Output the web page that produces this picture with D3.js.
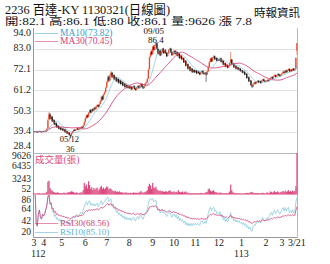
<!DOCTYPE html>
<html>
<head>
<meta charset="utf-8" />
<title>2236 百達-KY</title>
<script src="https://cdn.jsdelivr.net/npm/d3@7"></script>
<style>
  body { margin: 0; background: #fff; }
  svg text { font-family: "Liberation Serif", "DejaVu Serif", "Noto Sans CJK TC", serif; }
</style>
</head>
<body>
<div id="chart"></div>
<script>
// daily bars, 112/03/21 .. 113/03/21 (one row per month block)
var open = [
  39.5,39.6,39.8,39.6,39.4,39.7,39.9,39.6,39.5,
  39.9,39.6,39.9,40.4,41.2,46.0,48.6,46.2,47.4,44.8,45.6,43.2,44.0,41.8,42.6,41.0,41.8,
  40.5,41.2,40.0,40.8,39.2,39.8,38.4,39.0,37.8,37.4,38.8,39.6,40.6,40.2,40.9,41.3,40.6,41.0,41.6,42.1,41.7,42.9,
  44.8,46.6,48.2,47.4,49.6,51.0,49.8,51.4,50.6,52.2,51.5,52.9,53.6,52.8,54.2,55.6,58.0,56.6,59.2,60.4,
  62.8,65.6,68.4,66.5,69.4,70.6,68.0,69.2,67.2,68.0,66.2,67.2,65.4,66.4,64.8,65.6,64.0,64.8,63.2,64.0,62.8,
  63.4,62.5,63.2,61.9,62.8,63.5,62.1,61.6,62.9,63.6,62.5,63.9,64.6,63.3,62.5,63.7,64.9,65.6,67.5,72.5,79.0,81.5,
  80.4,84.2,82.6,85.2,86.0,83.0,80.6,82.2,79.8,81.6,83.2,80.8,82.4,81.0,79.3,80.7,82.6,83.2,81.3,79.8,
  81.6,82.0,80.5,81.4,79.6,80.6,78.4,79.4,77.7,78.2,76.2,76.8,74.4,75.0,72.8,73.6,71.8,72.6,70.9,71.9,
  70.9,71.6,70.3,71.1,70.5,69.7,70.9,71.5,70.3,69.9,70.6,69.6,71.3,73.6,76.2,78.0,76.6,78.5,79.2,77.7,78.3,76.9,
  77.5,77.1,78.1,76.3,76.8,74.9,75.5,73.9,74.6,73.3,74.1,75.8,77.4,74.9,75.3,73.5,74.0,72.7,73.3,72.3,72.7,
  71.5,71.7,70.7,71.0,69.7,70.0,67.9,68.2,66.1,66.4,63.8,63.3,64.7,65.5,64.9,65.7,66.3,65.6,66.1,65.3,66.5,67.1,66.3,
  65.8,66.1,66.7,66.3,67.1,67.7,68.3,67.6,68.7,69.3,68.5,69.1,69.9,69.3,68.9,
  69.7,70.3,71.1,70.5,71.7,70.9,71.9,72.5,71.3,72.1,71.6,72.7,71.9,72.6,82.1
];
var high = [
  39.9,40.0,40.0,39.8,39.9,40.2,40.0,39.8,40.0,
  40.1,40.1,40.5,41.4,46.5,50.0,49.4,48.0,47.8,46.2,46.0,44.6,44.4,43.2,43.0,42.2,42.0,
  41.7,41.5,41.2,41.0,40.3,40.1,39.5,39.3,38.2,39.0,39.9,40.8,40.8,41.0,41.5,41.5,41.3,41.8,42.3,42.4,43.1,45.0,
  47.0,48.6,48.6,49.9,51.3,51.4,51.6,51.8,52.4,52.6,53.1,53.9,53.9,54.4,56.0,58.4,58.6,59.6,60.8,63.2,
  66.2,68.9,69.0,69.8,71.4,71.0,69.9,69.6,68.6,68.4,67.8,67.5,67.0,66.8,66.2,65.9,65.3,65.0,64.6,64.3,64.0,
  63.7,63.8,63.5,63.2,64.0,63.8,62.5,63.2,63.9,63.9,64.2,65.0,64.9,63.6,64.0,65.2,66.0,67.8,72.8,79.2,82.0,82.4,
  84.6,85.0,85.6,86.4,86.2,83.4,82.5,82.6,81.9,83.5,83.6,82.7,82.8,81.4,81.0,82.9,83.6,83.6,81.7,81.9,
  82.5,82.4,82.0,81.7,81.2,80.9,80.0,79.7,78.8,78.5,77.4,77.1,75.6,75.3,74.2,73.9,73.2,72.9,72.4,72.2,
  71.9,71.9,71.4,71.4,70.8,71.2,71.8,71.8,70.6,71.0,70.9,71.6,74.0,76.6,78.4,78.6,78.9,79.6,79.6,78.6,78.6,77.8,
  77.8,78.4,78.4,77.4,77.1,76.0,75.8,75.2,74.9,74.6,76.0,81.4,77.8,75.8,75.6,74.6,74.3,73.8,73.6,73.2,73.0,
  72.2,72.0,71.6,71.3,70.6,70.3,68.8,68.5,67.0,66.7,64.2,65.0,65.8,65.8,66.0,66.6,66.6,66.4,66.4,66.8,67.4,67.4,66.6,
  66.4,67.0,67.0,67.4,68.0,68.6,68.6,69.0,69.6,69.6,69.4,70.2,70.2,69.6,70.0,
  70.6,71.4,71.4,72.0,72.0,72.2,72.8,72.8,72.4,72.4,73.0,73.0,72.6,78.6,86.1
];
var low = [
  39.2,39.4,39.3,39.2,39.2,39.5,39.4,39.3,39.3,
  39.5,39.4,39.7,40.2,41.0,45.6,46.0,45.8,44.6,44.4,43.0,42.9,41.7,41.5,40.9,40.7,40.3,
  40.3,39.9,39.8,39.1,39.0,38.3,38.2,37.6,36.0,37.1,38.5,39.4,40.0,40.0,40.6,40.4,40.4,40.8,41.4,41.4,41.5,42.6,
  44.4,46.2,46.8,47.0,49.2,49.2,49.4,50.2,50.3,51.0,51.2,52.6,52.2,52.5,53.9,55.2,56.0,56.2,58.8,60.0,
  62.4,65.2,65.9,66.1,69.0,67.8,67.7,66.6,66.8,65.6,65.8,64.8,65.0,64.2,64.4,63.4,63.6,62.7,62.9,62.2,62.4,
  62.0,62.2,61.4,61.6,62.5,61.7,61.1,61.3,62.6,62.1,62.3,63.6,62.9,62.0,62.2,63.4,64.6,65.3,67.2,72.0,78.4,79.6,
  80.0,82.0,82.2,84.6,82.8,80.0,80.2,79.2,79.4,81.2,80.4,80.4,80.6,78.8,78.9,80.3,82.2,80.8,79.4,79.4,
  81.2,80.0,80.2,79.1,79.3,77.8,78.1,77.2,77.3,75.6,75.8,73.8,74.0,72.2,72.5,71.2,71.5,70.4,70.6,70.4,
  70.6,69.8,70.0,70.0,69.2,69.4,70.6,69.8,69.4,69.6,65.7,69.3,71.0,73.3,75.8,76.1,76.3,78.2,77.2,77.4,76.4,76.6,
  76.6,76.8,75.8,76.0,74.4,74.6,73.4,73.6,72.8,73.0,73.8,75.4,74.4,74.5,73.0,73.2,72.2,72.4,71.8,72.0,71.0,
  71.1,70.2,70.4,69.2,69.4,67.4,67.5,65.6,65.8,63.6,62.4,63.0,64.4,64.4,64.6,65.4,65.1,65.3,64.8,65.0,66.2,65.8,65.4,
  65.5,65.8,65.8,66.0,66.8,67.4,67.1,67.3,68.4,68.0,68.2,68.8,68.8,68.4,68.6,
  69.4,70.0,70.0,70.2,70.4,70.6,71.6,70.8,71.0,71.1,71.3,71.4,71.6,72.3,80.0
];
var close = [
  39.6,39.8,39.5,39.4,39.7,39.9,39.6,39.5,39.8,
  39.7,39.9,40.3,41.0,45.5,48.8,46.4,47.6,45.0,45.8,43.4,44.2,42.0,42.8,41.2,41.9,40.6,
  41.4,40.2,40.9,39.4,40.0,38.6,39.2,37.9,37.4,38.8,39.6,40.5,40.0,40.8,41.2,40.6,41.0,41.5,42.0,41.6,42.8,44.5,
  46.5,48.0,47.2,49.5,50.8,49.6,51.2,50.5,52.0,51.4,52.8,53.5,52.6,54.0,55.5,57.8,56.5,59.0,60.2,62.5,
  65.5,68.0,66.4,69.2,70.5,68.2,69.4,67.0,68.2,66.0,67.4,65.2,66.6,64.6,65.8,63.8,64.9,63.0,64.2,62.6,63.6,
  62.4,63.4,61.8,62.9,63.6,62.0,61.6,62.9,63.5,62.4,63.8,64.5,63.0,62.4,63.6,64.8,65.5,67.2,72.0,78.5,81.0,80.2,
  84.0,82.5,85.0,86.0,83.2,80.5,82.0,79.6,81.5,83.0,80.8,82.2,81.0,79.2,80.6,82.4,83.0,81.2,79.8,81.5,
  82.0,80.4,81.6,79.5,80.8,78.2,79.6,77.6,78.4,76.0,77.0,74.2,75.2,72.6,73.8,71.6,72.8,70.8,72.0,70.8,
  71.5,70.2,71.0,70.4,69.6,70.8,71.4,70.2,69.8,70.6,69.5,71.2,73.5,76.0,77.8,76.5,78.4,79.0,77.6,78.2,76.8,77.4,
  77.0,78.0,76.2,77.0,74.8,75.6,73.8,74.8,73.2,74.2,75.5,77.5,74.8,75.4,73.4,74.2,72.6,73.4,72.2,72.8,71.4,
  71.8,70.6,71.2,69.6,70.2,67.8,68.4,66.0,66.6,64.0,63.2,64.6,65.4,64.8,65.6,66.2,65.5,66.0,65.2,66.4,67.0,66.2,65.8,
  66.0,66.6,66.2,67.0,67.6,68.2,67.5,68.6,69.2,68.4,69.0,69.8,69.2,68.8,69.6,
  70.2,71.0,70.4,71.6,70.8,71.8,72.4,71.2,72.0,71.5,72.6,71.8,72.2,78.3,86.1
];
var volume = [
  180,150,120,160,140,200,130,110,150,
  170,140,260,520,2900,3100,1400,900,760,520,380,300,260,420,220,180,200,
  240,180,350,220,260,300,420,380,520,640,560,420,260,300,380,240,220,300,420,280,900,2600,
  1800,2200,1300,3000,2100,1200,1600,900,1400,1000,1300,1500,800,1100,1600,1900,1200,1500,1100,1400,
  1800,1600,1100,1300,1200,900,700,600,800,500,600,400,650,380,420,300,350,280,400,260,300,
  240,300,260,220,360,280,300,260,320,260,480,700,420,300,380,520,600,900,1800,2400,2000,1200,
  2600,1500,1400,1700,1100,900,700,800,600,700,560,500,640,600,420,700,900,600,500,480,
  620,400,520,380,900,540,380,460,600,300,520,600,380,240,300,180,220,160,200,150,
  180,160,200,140,180,260,220,160,180,200,500,420,1100,1300,800,600,700,900,500,400,360,300,
  260,340,300,220,180,200,160,180,150,220,600,2200,900,400,300,240,200,180,220,160,140,
  150,120,140,160,200,240,300,200,360,420,500,300,220,180,200,240,160,180,150,200,300,220,160,
  180,400,260,220,600,500,300,420,700,400,460,600,380,320,500,
  560,700,420,800,500,640,900,500,700,520,800,600,700,1800,9626
];

var monthIdx = [0, 9, 26, 48, 68, 89, 111, 131, 151, 173, 194, 217, 232, 246];
var monthLabels = ["3", "4", "5", "6", "7", "8", "9", "10", "11", "12", "1", "2", "3", "3/21"];
var yearIdx = [4, 194];
var yearLabels = ["112", "113"];
var priceTicks = [94.0, 83.0, 72.1, 61.2, 50.3, 39.4, 28.4];
var volTicks = [9626, 6435, 3243, 52];
var rsiTicks = [86, 64, 42, 20];

var upColor = "#e84a2a", downColor = "#1c1c1c";
var maColor10 = "#4fb3dc", maColor30 = "#d8437a";
var volColor = "#dc4a80";
var rsiColor30 = "#d8437a", rsiColor10 = "#8ccbe0";

var svg = d3.select("#chart").append("svg")
    .attr("width", 330)
    .attr("height", 264);

var n = close.length;
var x = d3.scaleLinear().domain([-0.5, n - 0.5]).range([33.5, 297.5]);
var yP = d3.scaleLinear().domain([28.4, 94]).range([153, 28]);
var yV = d3.scaleLinear().domain([0, 9626]).range([194, 153]);
var yR = d3.scaleLinear().domain([12, 92]).range([237.5, 195]);

// moving averages and RSI from the closes
function movingAvg(k) {
    return close.map(function (c, i) { return d3.mean(close.slice(Math.max(0, i - k + 1), i + 1)); });
}
function rsi(k) {
    var out = [null], ag = 0, al = 0;
    for (var i = 1; i < n; i++) {
        var ch = close[i] - close[i - 1];
        var g = Math.max(ch, 0), l = Math.max(-ch, 0);
        var m = Math.min(i, k);
        ag = (ag * (m - 1) + g) / m;
        al = (al * (m - 1) + l) / m;
        out.push(al === 0 ? 100 : 100 - 100 / (1 + ag / al));
    }
    return out;
}
var ma10 = movingAvg(10), ma30 = movingAvg(30);
var rsi10 = rsi(10), rsi30 = rsi(30);

var defs = svg.append("defs");
defs.append("clipPath").attr("id", "clipP").append("rect")
    .attr("x", 33.5).attr("y", 28).attr("width", 264).attr("height", 125);
defs.append("clipPath").attr("id", "clipR").append("rect")
    .attr("x", 33.5).attr("y", 195).attr("width", 264).attr("height", 42.5);

// header
svg.append("text").attr("x", 5).attr("y", 14)
    .style("font-size", "13px").attr("fill", "#111")
    .attr("textLength", 165).attr("lengthAdjust", "spacingAndGlyphs")
    .text("2236  百達-KY 1130321(日線圖)");
svg.append("text").attr("x", 5).attr("y", 24.5)
    .style("font-size", "10.5px").attr("fill", "#111")
    .attr("textLength", 247).attr("lengthAdjust", "spacingAndGlyphs")
    .text("開:82.1 高:86.1 低:80 收:86.1 量:9626 漲 7.8");
svg.append("text").attr("x", 300).attr("y", 17)
    .attr("text-anchor", "end")
    .style("font-size", "11.5px").attr("fill", "#111")
    .text("時報資訊");

// grid + frame
svg.append("g").selectAll("line")
    .data(priceTicks.filter(function (d) { return d > 29 && d < 93; }))
    .join("line")
    .attr("x1", 33.5).attr("x2", 297.5)
    .attr("y1", function (d) { return Math.round(yP(d)) + 0.5; })
    .attr("y2", function (d) { return Math.round(yP(d)) + 0.5; })
    .attr("stroke", "#e2e2e2");

var frame = svg.append("g").attr("stroke", "#b8b8b8").attr("fill", "none");
frame.append("line").attr("x1", 33.5).attr("x2", 33.5).attr("y1", 28).attr("y2", 237.5).attr("stroke", "#999");
frame.append("line").attr("x1", 297.5).attr("x2", 297.5).attr("y1", 28).attr("y2", 237.5);
frame.append("line").attr("x1", 33.5).attr("x2", 297.5).attr("y1", 153.5).attr("y2", 153.5);
frame.append("line").attr("x1", 33.5).attr("x2", 297.5).attr("y1", 237.5).attr("y2", 237.5).attr("stroke", "#999");
svg.append("line").attr("x1", 33.5).attr("x2", 297.5).attr("y1", 194.5).attr("y2", 194.5)
    .attr("stroke", volColor).attr("stroke-opacity", 0.55);

// y labels
var tickFont = "10px", smallFont = "9.5px";
svg.append("g").selectAll("text").data(priceTicks).join("text")
    .attr("x", 31).attr("text-anchor", "end").attr("dominant-baseline", "middle")
    .attr("y", function (d) { return Math.min(Math.max(yP(d), 34), 147); })
    .style("font-size", tickFont).attr("fill", "#222")
    .text(function (d) { return d.toFixed(1); });
svg.append("g").selectAll("text").data(volTicks).join("text")
    .attr("x", 31).attr("text-anchor", "end").attr("dominant-baseline", "middle")
    .attr("y", function (d) { return Math.min(Math.max(yV(d), 157), 190); })
    .style("font-size", smallFont).attr("fill", "#222")
    .text(function (d) { return d; });
svg.append("g").selectAll("text").data(rsiTicks).join("text")
    .attr("x", 31).attr("text-anchor", "end").attr("dominant-baseline", "middle")
    .attr("y", function (d) { return Math.min(Math.max(yR(d), 200.5), 233); })
    .style("font-size", smallFont).attr("fill", "#222")
    .text(function (d) { return d; });

// x labels
svg.append("g").selectAll("text").data(monthIdx).join("text")
    .attr("x", function (d) { return x(d); })
    .attr("y", 246)
    .attr("text-anchor", "middle")
    .style("font-size", tickFont).attr("fill", "#222")
    .text(function (d, i) { return monthLabels[i]; });
svg.append("g").selectAll("text").data(yearIdx).join("text")
    .attr("x", function (d) { return x(d); })
    .attr("y", 256.5)
    .attr("text-anchor", "middle")
    .style("font-size", tickFont).attr("fill", "#222")
    .text(function (d, i) { return yearLabels[i]; });

// candles
var idx = d3.range(n);
var cg = svg.append("g").attr("clip-path", "url(#clipP)");
function candleColor(i) { return close[i] >= open[i] ? upColor : downColor; }
cg.selectAll("line.wick").data(idx).join("line")
    .attr("class", "wick")
    .attr("x1", function (i) { return x(i); }).attr("x2", function (i) { return x(i); })
    .attr("y1", function (i) { return yP(high[i]); }).attr("y2", function (i) { return yP(low[i]); })
    .attr("stroke", candleColor).attr("stroke-width", 0.6);
cg.selectAll("rect.body").data(idx).join("rect")
    .attr("class", "body")
    .attr("x", function (i) { return x(i) - 0.65; })
    .attr("width", 1.3)
    .attr("y", function (i) { return yP(Math.max(open[i], close[i])); })
    .attr("height", function (i) { return Math.max(0.7, Math.abs(yP(open[i]) - yP(close[i]))); })
    .attr("fill", candleColor);

var line = d3.line().x(function (d, i) { return x(i); });
cg.append("path").datum(ma30)
    .attr("d", line.y(function (d) { return yP(d); }))
    .attr("fill", "none").attr("stroke", maColor30).attr("stroke-width", 0.9);
cg.append("path").datum(ma10)
    .attr("d", line.y(function (d) { return yP(d); }))
    .attr("fill", "none").attr("stroke", maColor10).attr("stroke-width", 0.7).attr("stroke-opacity", 0.75);

// MA legend
svg.append("line").attr("x1", 35).attr("x2", 58).attr("y1", 33.5).attr("y2", 33.5).attr("stroke", maColor10).attr("stroke-opacity", 0.6);
svg.append("line").attr("x1", 35).attr("x2", 58).attr("y1", 41.5).attr("y2", 41.5).attr("stroke", maColor30).attr("stroke-opacity", 0.6);
svg.append("text").attr("x", 60).attr("y", 33.5).attr("dominant-baseline", "middle")
    .style("font-size", "9.5px").attr("fill", "#3a9fd0").text("MA10(73.82)");
svg.append("text").attr("x", 60).attr("y", 42).attr("dominant-baseline", "middle")
    .style("font-size", "9.5px").attr("fill", maColor30).text("MA30(70.45)");

// high / low notes
svg.append("text").attr("x", x(114) - 2).attr("y", 31.5).attr("text-anchor", "middle").attr("dominant-baseline", "middle")
    .style("font-size", "9px").attr("fill", "#111").text("09/05");
svg.append("text").attr("x", x(114)).attr("y", 40.5).attr("text-anchor", "middle").attr("dominant-baseline", "middle")
    .style("font-size", "9px").attr("fill", "#111").text("86.4");
svg.append("text").attr("x", x(34) - 1).attr("y", 140).attr("text-anchor", "middle").attr("dominant-baseline", "middle")
    .style("font-size", "8.5px").attr("fill", "#111").text("05/12");
svg.append("text").attr("x", x(34)).attr("y", 150).attr("text-anchor", "middle").attr("dominant-baseline", "middle")
    .style("font-size", "8.5px").attr("fill", "#111").text("36");

// volume
svg.append("g").selectAll("rect").data(idx).join("rect")
    .attr("x", function (i) { return x(i) - 0.6; })
    .attr("width", 1.2)
    .attr("y", function (i) { return yV(volume[i]); })
    .attr("height", function (i) { return yV(0) - yV(volume[i]); })
    .attr("fill", volColor);
svg.append("text").attr("x", 35).attr("y", 161).attr("dominant-baseline", "middle")
    .style("font-size", "9.5px").attr("fill", volColor).text("成交量(張)");

// RSI
var rg = svg.append("g").attr("clip-path", "url(#clipR)");
var rline = d3.line().defined(function (d) { return d !== null; }).x(function (d, i) { return x(i); }).y(function (d) { return yR(d); });
rg.append("path").datum(rsi10).attr("d", rline)
    .attr("fill", "none").attr("stroke", rsiColor10).attr("stroke-width", 0.8);
rg.append("path").datum(rsi30).attr("d", rline)
    .attr("fill", "none").attr("stroke", rsiColor30).attr("stroke-width", 0.8);
svg.append("line").attr("x1", 35).attr("x2", 58).attr("y1", 223.5).attr("y2", 223.5).attr("stroke", rsiColor30).attr("stroke-opacity", 0.6);
svg.append("line").attr("x1", 35).attr("x2", 58).attr("y1", 232.5).attr("y2", 232.5).attr("stroke", rsiColor10).attr("stroke-opacity", 0.8);
svg.append("text").attr("x", 60).attr("y", 223.5).attr("dominant-baseline", "middle")
    .style("font-size", "9px").attr("fill", rsiColor30).text("RSI30(68.56)");
svg.append("text").attr("x", 60).attr("y", 232.5).attr("dominant-baseline", "middle")
    .style("font-size", "9px").attr("fill", "#5fb4d3").text("RSI10(85.10)");
</script>
</body>
</html>
